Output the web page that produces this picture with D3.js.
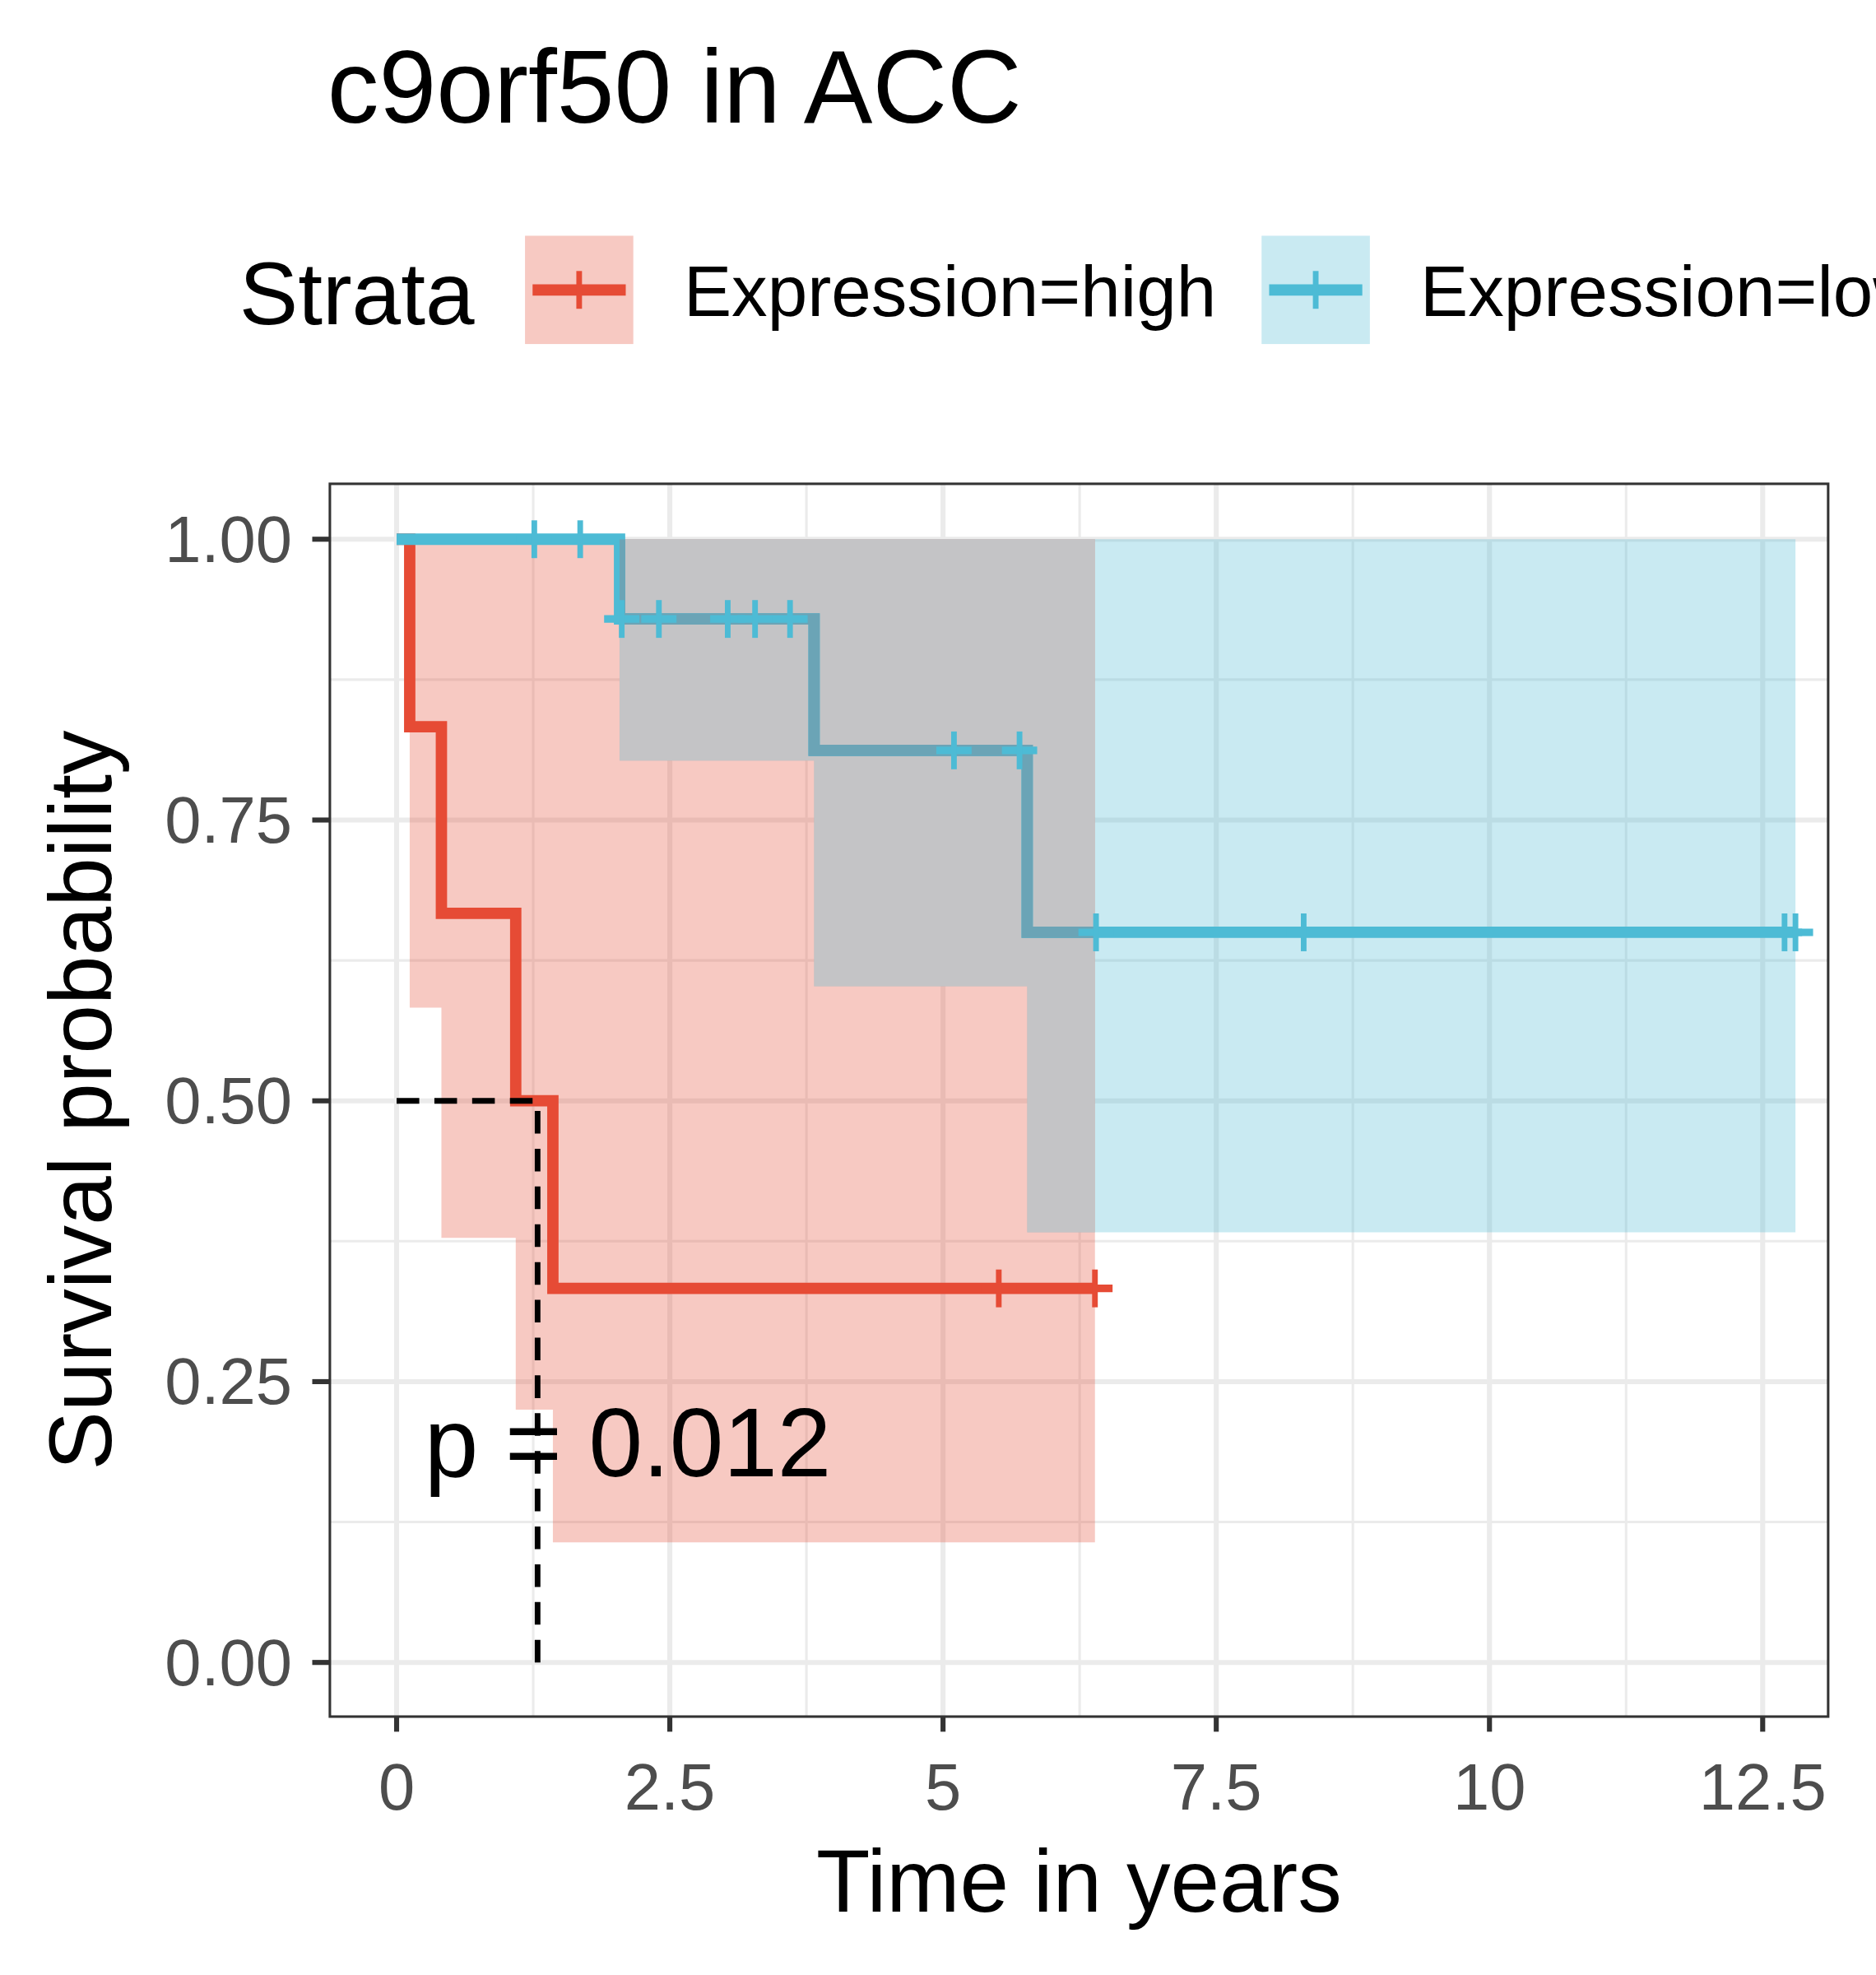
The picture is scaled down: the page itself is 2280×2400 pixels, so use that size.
<html>
<head>
<meta charset="utf-8">
<style>
  body { margin: 0; background: #fff; }
  text { font-family: Arial, "Liberation Sans", sans-serif; }
</style>
</head>
<body>
<svg id="chart" width="2280" height="2400" viewBox="0 0 1490 1568"></svg>
<script src="https://cdn.jsdelivr.net/npm/d3@7"></script>
<script>
// step curves: [time, survival]
var highSurv = [[0, 1], [0.12, 0.833], [0.41, 0.667], [1.09, 0.5], [1.43, 0.333], [6.39, 0.333]];
var highLower = [[0, 1], [0.12, 0.583], [0.41, 0.378], [1.09, 0.225], [1.43, 0.107], [6.39, 0.107]];
var highCensor = [5.51, 6.39];
var lowSurv = [[0, 1], [2.04, 0.929], [3.82, 0.812], [5.77, 0.65], [12.8, 0.65]];
var lowLower = [[0, 1], [2.04, 0.803], [3.82, 0.602], [5.77, 0.383], [12.8, 0.383]];
var lowCensor = [1.26, 1.68, 2.06, 2.4, 3.03, 3.28, 3.6, 5.1, 5.7, 6.4, 8.3, 12.7, 12.8];
var median = 1.29;
var xTicks = [0, 2.5, 5, 7.5, 10, 12.5];
var yTicks = [0, 0.25, 0.5, 0.75, 1];

var red = "#E64B35", teal = "#4DBBD5";
var svg = d3.select("#chart");
var L = 262, R = 1452, T = 384, B = 1363;
var x = d3.scaleLinear().domain([0, 12.5]).range([315, 1400]);
var y = d3.scaleLinear().domain([0, 1]).range([1320, 428]);

svg.append("rect").attr("x", L).attr("y", T).attr("width", R - L).attr("height", B - T).attr("fill", "#fff");
var g = svg.append("g");
// grid
[1.25, 3.75, 6.25, 8.75, 11.25].forEach(function(v) {
  g.append("line").attr("x1", x(v)).attr("x2", x(v)).attr("y1", T).attr("y2", B).attr("stroke", "#ebebeb").attr("stroke-width", 2);
});
[0.125, 0.375, 0.625, 0.875].forEach(function(v) {
  g.append("line").attr("y1", y(v)).attr("y2", y(v)).attr("x1", L).attr("x2", R).attr("stroke", "#ebebeb").attr("stroke-width", 2);
});
xTicks.forEach(function(v) {
  g.append("line").attr("x1", x(v)).attr("x2", x(v)).attr("y1", T).attr("y2", B).attr("stroke", "#ebebeb").attr("stroke-width", 4);
});
yTicks.forEach(function(v) {
  g.append("line").attr("y1", y(v)).attr("y2", y(v)).attr("x1", L).attr("x2", R).attr("stroke", "#ebebeb").attr("stroke-width", 4);
});

function stepAt(arr, t) {
  var v = arr[0][1];
  arr.forEach(function(d) { if (d[0] <= t) v = d[1]; });
  return v;
}
var area = d3.area().curve(d3.curveStepAfter).x(function(d) { return x(d[0]); }).y0(function(d) { return y(d[1]); }).y1(y(1));
svg.append("path").attr("d", area(lowLower)).attr("fill", teal).attr("fill-opacity", 0.3);
svg.append("path").attr("d", area(highLower)).attr("fill", red).attr("fill-opacity", 0.3);
// overlap of the two bands
var end = Math.min(highLower[highLower.length - 1][0], lowLower[lowLower.length - 1][0]);
var brk = Array.from(new Set(highLower.concat(lowLower).map(function(d) { return d[0]; })))
  .filter(function(t) { return t <= end; }).sort(d3.ascending);
var overlap = brk.map(function(t) { return [t, Math.max(stepAt(highLower, t), stepAt(lowLower, t))]; });
svg.append("clipPath").attr("id", "ov").append("path").attr("d", area(overlap));
svg.append("path").attr("d", area(overlap)).attr("fill", "#c4c4c6");

var line = d3.line().curve(d3.curveStepAfter).x(function(d) { return x(d[0]); }).y(function(d) { return y(d[1]); });
svg.append("path").attr("d", line(highSurv)).attr("fill", "none").attr("stroke", red).attr("stroke-width", 9);
svg.append("path").attr("d", line(lowSurv)).attr("fill", "none").attr("stroke", teal).attr("stroke-width", 9);
svg.append("path").attr("d", line(lowSurv)).attr("fill", "none").attr("stroke", "#6ba4b6").attr("stroke-width", 9)
  .attr("clip-path", "url(#ov)");

function censors(times, curve, col) {
  times.forEach(function(t) {
    var cx = x(t), cy = y(stepAt(curve, t));
    svg.append("line").attr("x1", cx - 14).attr("x2", cx + 14).attr("y1", cy).attr("y2", cy).attr("stroke", col).attr("stroke-width", 6);
    svg.append("line").attr("x1", cx).attr("x2", cx).attr("y1", cy - 15).attr("y2", cy + 15).attr("stroke", col).attr("stroke-width", 4.5);
  });
}
censors(highCensor, highSurv, red);
censors(lowCensor, lowSurv, teal);

// median line
svg.append("path").attr("d", "M" + x(0) + "," + y(0.5) + "H" + x(median) + "V" + y(0))
  .attr("fill", "none").attr("stroke", "#000").attr("stroke-width", 4.5).attr("stroke-dasharray", "18,12");

svg.append("text").attr("x", 337).attr("y", 1172).attr("font-size", 77).text("p = 0.012");

svg.append("rect").attr("x", L).attr("y", T).attr("width", R - L).attr("height", B - T).attr("fill", "none").attr("stroke", "#333").attr("stroke-width", 2);

// axes
xTicks.forEach(function(v) {
  svg.append("line").attr("x1", x(v)).attr("x2", x(v)).attr("y1", B).attr("y2", B + 12).attr("stroke", "#333").attr("stroke-width", 4);
  svg.append("text").attr("x", x(v)).attr("y", B + 74).attr("text-anchor", "middle").attr("font-size", 52).attr("fill", "#4d4d4d").text(d3.format("")(v));
});
yTicks.forEach(function(v) {
  svg.append("line").attr("x1", L - 14).attr("x2", L).attr("y1", y(v)).attr("y2", y(v)).attr("stroke", "#333").attr("stroke-width", 4);
  svg.append("text").attr("x", L - 30).attr("y", y(v) + 18).attr("text-anchor", "end").attr("font-size", 52).attr("fill", "#4d4d4d").text(v.toFixed(2));
});
svg.append("text").attr("x", (L + R) / 2 + 0).attr("y", 1518).attr("text-anchor", "middle").attr("font-size", 70).text("Time in years");
svg.append("text").attr("transform", "translate(88," + (T + B) / 2 + ") rotate(-90)").attr("text-anchor", "middle").attr("font-size", 70).text("Survival probability");

svg.append("text").attr("x", 260).attr("y", 97).attr("font-size", 82).text("c9orf50 in ACC");

// legend
svg.append("text").attr("x", 190).attr("y", 257).attr("font-size", 70).text("Strata");
[["Expression=high", red, 417], ["Expression=low", teal, 1002]].forEach(function(d) {
  svg.append("rect").attr("x", d[2]).attr("y", 187).attr("width", 86).attr("height", 86).attr("fill", d[1]).attr("fill-opacity", 0.3);
  svg.append("line").attr("x1", d[2] + 6).attr("x2", d[2] + 80).attr("y1", 230).attr("y2", 230).attr("stroke", d[1]).attr("stroke-width", 9);
  svg.append("line").attr("x1", d[2] + 43).attr("x2", d[2] + 43).attr("y1", 215).attr("y2", 245).attr("stroke", d[1]).attr("stroke-width", 4.5);
  svg.append("text").attr("x", d[2] + 126).attr("y", 251).attr("font-size", 57).text(d[0]);
});
</script>
</body>
</html>
